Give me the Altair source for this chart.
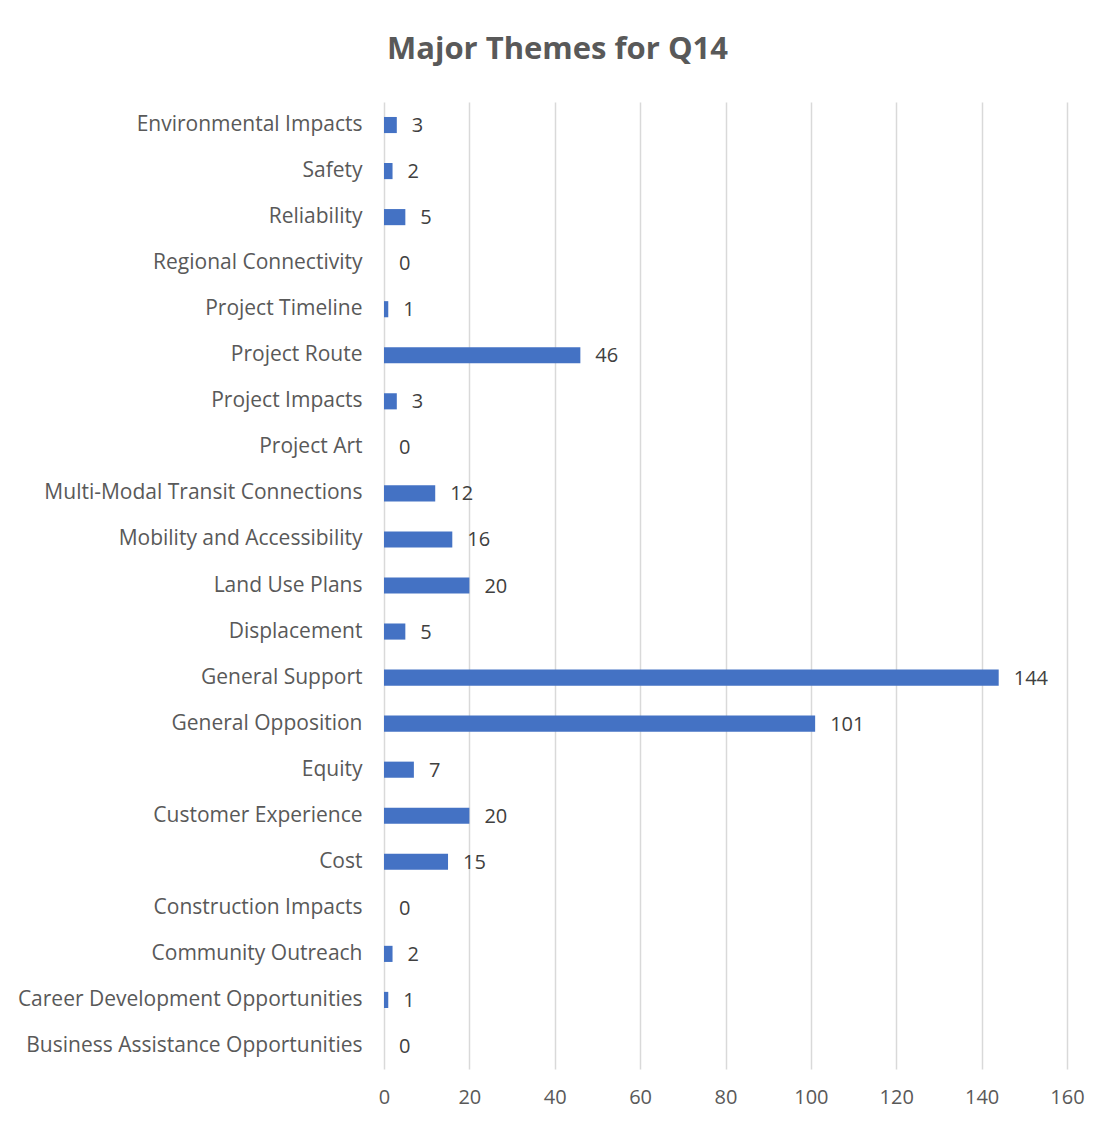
import altair as alt
import pandas as pd

categories = [
    "Environmental Impacts", "Safety", "Reliability", "Regional Connectivity",
    "Project Timeline", "Project Route", "Project Impacts", "Project Art",
    "Multi-Modal Transit Connections", "Mobility and Accessibility",
    "Land Use Plans", "Displacement", "General Support", "General Opposition",
    "Equity", "Customer Experience", "Cost", "Construction Impacts",
    "Community Outreach", "Career Development Opportunities",
    "Business Assistance Opportunities",
]
counts = [3, 2, 5, 0, 1, 46, 3, 0, 12, 16, 20, 5, 144, 101, 7, 20, 15, 0, 2, 1, 0]
x_ticks = [0, 20, 40, 60, 80, 100, 120, 140, 160]

df = pd.DataFrame({"theme": categories, "count": counts})

FONT = "Open Sans"
W, H = 683, 967
PL, PT, PR, PB = 376, 94, 30, 50

y_enc = alt.Y("theme:N", sort=categories, title=None,
              scale=alt.Scale(paddingInner=0.65, paddingOuter=0.325),
              axis=alt.Axis(domain=False, ticks=False, labelPadding=22,
                            labelFont=FONT, labelFontSize=21, labelColor="#595959",
                            labelLimit=400))
x_enc = alt.X("count:Q", title=None,
              scale=alt.Scale(domain=[0, 160], nice=False),
              axis=alt.Axis(values=x_ticks, domain=False, ticks=False, labelPadding=18,
                            labelFlush=False, labelOverlap=False,
                            labelFont=FONT, labelFontSize=20, labelColor="#595959",
                            grid=True, gridColor="#D9D9D9", gridWidth=1.5))

bars = alt.Chart(df).mark_bar(color="#4472C4").encode(x=x_enc, y=y_enc)
labels = alt.Chart(df).mark_text(align="left", baseline="middle", dx=15, dy=1,
                                 font=FONT, fontSize=20, color="#404040").encode(
    x="count:Q", y=alt.Y("theme:N", sort=categories), text="count:Q")

chart = (bars + labels).properties(
    width=W, height=H,
    background="white",
    title=alt.TitleParams("Major Themes for Q14", font=FONT, fontSize=31,
                          fontWeight="bold", color="#595959", anchor="middle",
                          offset=36, dx=-168),
    autosize=alt.AutoSizeParams(type="none"),
    padding={"left": PL, "top": PT, "right": PR, "bottom": PB},
).configure_view(stroke=None, strokeWidth=0)

chart.save("out.html", embed_options={"renderer": "svg", "actions": False})
